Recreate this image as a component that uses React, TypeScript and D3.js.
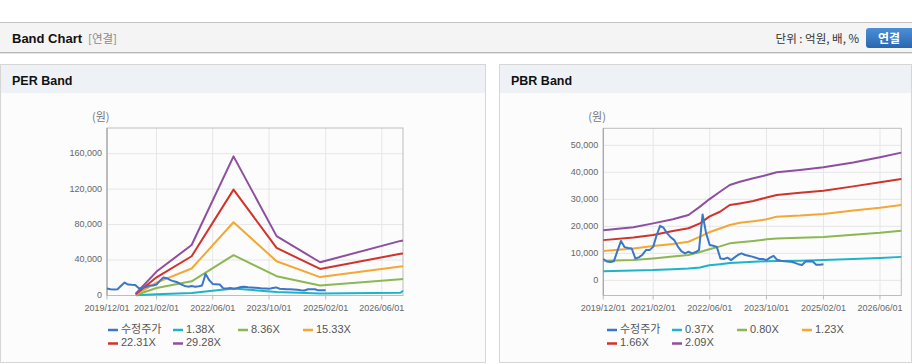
import { useEffect, useRef } from "react";
import * as d3 from "d3";

const W = 912;
const H = 364;
const FONT = "'Liberation Sans', Arial, 'Noto Sans CJK KR', sans-serif";
const KFONT = "'Noto Sans CJK KR', 'Liberation Sans', sans-serif";

// x axis ticks (shared)
const xTickLabels = ["2019/12/01", "2021/02/01", "2022/06/01", "2023/10/01", "2025/02/01", "2026/06/01"];
const xStart = "2019/12/01";
const xEnd = "2026/12/01";

// 수정주가 (monthly, from 2019/12)
const priceStart = "2019/12/01";
const priceValues = [
    7900, 7000, 6800, 7100, 11000, 14600, 12300, 12000, 11800, 8100, 8500, 9500,
    11200, 11200, 12400, 16500, 20200, 19500, 17400, 16000, 14900, 12500, 10800, 10000,
    10600, 10000, 10500, 11200, 24400, 17500, 13100, 12800, 12400, 8100, 7900, 8400,
    7500, 8500, 9500, 10000, 9400, 9100, 8800, 8400, 7900, 7900, 7500, 8400,
    9100, 7600, 7300, 7100, 7000, 6900, 6500, 6000, 5700, 7000, 7100, 7000,
    5800, 5800, 6000,
];

// PER band
const perDates = ["2020/08/05", "2021/02/01", "2021/12/01", "2022/11/28", "2023/12/05", "2024/12/15", "2026/11/10", "2026/12/01"];
const per138 = [300, 1300, 2700, 7800, 4000, 2200, 3100, 5400];
const per836 = [600, 8500, 16000, 45500, 21800, 11300, 18300, 18500];
const per1533 = [1000, 14500, 30500, 82600, 38700, 20800, 32600, 33000];
const per2231 = [1500, 20500, 44300, 119500, 53700, 30000, 47100, 47500];
const per2928 = [2000, 27000, 57000, 157000, 67000, 37500, 61600, 62000];
const perLabels = ["1.38X", "8.36X", "15.33X", "22.31X", "29.28X"];
const perTicks = [0, 40000, 80000, 120000, 160000];

// PBR band
const pbrDates = [
    "2019/12/01", "2020/08/15", "2021/02/01", "2021/07/20", "2021/12/01", "2022/03/10",
    "2022/05/28", "2022/08/28", "2022/11/20", "2023/02/15", "2023/06/10", "2023/10/03",
    "2023/12/28", "2024/07/15", "2025/02/01", "2025/10/15", "2026/06/01", "2026/12/01",
];
const pbr037 = [3400, 3700, 3800, 4100, 4400, 4800, 5600, 6000, 6400, 6600, 6900, 7100, 7200, 7300, 7500, 7900, 8300, 8700];
const pbr080 = [7300, 7500, 8100, 8800, 9400, 10500, 11500, 12600, 13700, 14100, 14600, 15200, 15500, 15800, 16100, 16900, 17600, 18400];
const pbr123 = [10900, 11800, 12700, 13500, 14300, 16200, 17800, 19200, 20500, 21300, 21900, 22600, 23600, 24000, 24600, 25900, 26900, 27900];
const pbr166 = [14900, 15900, 16800, 18300, 19300, 21100, 23600, 25400, 27900, 28500, 29400, 30700, 31600, 32400, 33200, 34800, 36300, 37500];
const pbr209 = [18600, 19700, 21100, 22600, 24200, 27300, 30000, 32800, 35300, 36500, 37800, 39000, 40000, 40900, 41900, 43600, 45600, 47300];
const pbrLabels = ["0.37X", "0.80X", "1.23X", "1.66X", "2.09X"];
const pbrTicks = [0, 10000, 20000, 30000, 40000, 50000];

const priceLabel = "수정주가";
const priceColor = "#3a77c6";
const bandColors = ["#1db3c8", "#8cb753", "#f4a733", "#d1322b", "#8e4f9f"];

const parse = d3.timeParse("%Y/%m/%d");

interface PanelCfg {
    left: number;
    right: number;
    top: number;
    bottom: number;
    yDomain: [number, number];
    yTicks: number[];
    bandDates: string[];
    bands: number[][];
    labels: string[];
    legendX: number;
}

const drawPanel = (svg: any, cfg: PanelCfg) => {
    const x = d3.scaleTime()
        .domain([parse(xStart)!, parse(xEnd)!])
        .range([cfg.left, cfg.right]);
    const y = d3.scaleLinear().domain(cfg.yDomain).range([cfg.bottom, cfg.top]);

    const g = svg.append("g");

    // grid
    cfg.yTicks.forEach((t) => {
        g.append("line")
            .attr("x1", cfg.left).attr("x2", cfg.right)
            .attr("y1", y(t)).attr("y2", y(t))
            .attr("stroke", "#e6e6e6");
        g.append("text")
            .attr("x", cfg.left - 5)
            .attr("y", y(t))
            .attr("text-anchor", "end")
            .attr("dominant-baseline", "middle")
            .attr("fill", "#666")
            .attr("font-size", "9px")
            .attr("font-family", FONT)
            .text(d3.format(",")(t));
    });
    xTickLabels.forEach((s) => {
        const px = x(parse(s)!);
        g.append("line")
            .attr("x1", px).attr("x2", px)
            .attr("y1", cfg.top).attr("y2", cfg.bottom)
            .attr("stroke", "#e6e6e6");
        g.append("line")
            .attr("x1", px).attr("x2", px)
            .attr("y1", cfg.bottom).attr("y2", cfg.bottom + 4)
            .attr("stroke", "#bbb");
        g.append("text")
            .attr("x", px)
            .attr("y", cfg.bottom + 15)
            .attr("text-anchor", "middle")
            .attr("fill", "#666")
            .attr("font-size", "9px")
            .attr("font-family", FONT)
            .text(s);
    });

    // frame
    g.append("rect")
        .attr("x", cfg.left).attr("y", cfg.top)
        .attr("width", cfg.right - cfg.left).attr("height", cfg.bottom - cfg.top)
        .attr("fill", "none").attr("stroke", "#bdbdbd");
    g.append("line")
        .attr("x1", cfg.left).attr("x2", cfg.left)
        .attr("y1", cfg.top).attr("y2", cfg.bottom)
        .attr("stroke", "#a0a0a0");

    // unit
    g.append("text")
        .attr("x", cfg.left - 15)
        .attr("y", 121)
        .attr("fill", "#777")
        .attr("font-size", "11px")
        .attr("font-family", KFONT)
        .text("(원)");

    const line = d3.line<[Date, number]>()
        .x((d) => x(d[0]))
        .y((d) => y(d[1]));

    // price
    const price: [Date, number][] = priceValues.map((v, i) => [d3.timeMonth.offset(parse(priceStart)!, i), v]);

    cfg.bands.forEach((vals, bi) => {
        const pts: [Date, number][] = vals.map((v, i) => [parse(cfg.bandDates[i])!, v]);
        g.append("path")
            .attr("d", line(pts))
            .attr("fill", "none")
            .attr("stroke", bandColors[bi])
            .attr("stroke-width", 2)
            .attr("stroke-linejoin", "round");
    });
    g.append("path")
        .attr("d", line(price))
        .attr("fill", "none")
        .attr("stroke", priceColor)
        .attr("stroke-width", 2)
        .attr("stroke-linejoin", "round");

    // legend
    const items = [{ label: priceLabel, color: priceColor }].concat(
        cfg.labels.map((l, i) => ({ label: l, color: bandColors[i] }))
    );
    items.forEach((it, i) => {
        const lx = cfg.legendX + (i % 4) * 65;
        const ly = 330 + Math.floor(i / 4) * 13.5;
        g.append("line")
            .attr("x1", lx).attr("x2", lx + 10)
            .attr("y1", ly).attr("y2", ly)
            .attr("stroke", it.color)
            .attr("stroke-width", 2.5);
        g.append("text")
            .attr("x", lx + 13)
            .attr("y", ly)
            .attr("dominant-baseline", "middle")
            .attr("fill", "#555")
            .attr("font-size", "11px")
            .attr("font-family", FONT)
            .text(it.label);
    });
};

const App = () => {
    const svgRef = useRef<SVGSVGElement>(null);

    useEffect(() => {
        if (!svgRef.current) return;
        const svg = d3.select(svgRef.current);
        svg.selectAll("*").remove();

        // header bar
        const defs = svg.append("defs");
        const grad = defs.append("linearGradient").attr("id", "btn").attr("x1", 0).attr("x2", 0).attr("y1", 0).attr("y2", 1);
        grad.append("stop").attr("offset", "0%").attr("stop-color", "#4b8fd6");
        grad.append("stop").attr("offset", "100%").attr("stop-color", "#2a66b0");

        svg.append("rect").attr("x", 0).attr("y", 22).attr("width", W).attr("height", 30).attr("fill", "#f4f4f4");
        svg.append("line").attr("x1", 0).attr("x2", W).attr("y1", 22.5).attr("y2", 22.5).attr("stroke", "#c4c4c4");
        svg.append("line").attr("x1", 0).attr("x2", W).attr("y1", 52.5).attr("y2", 52.5).attr("stroke", "#b8b8b8");
        svg.append("line").attr("x1", 0).attr("x2", W).attr("y1", 53.5).attr("y2", 53.5).attr("stroke", "#e4e4e4");

        svg.append("text")
            .attr("x", 12).attr("y", 42.5)
            .attr("font-size", "13px").attr("font-weight", "700")
            .attr("font-family", FONT).attr("fill", "#111")
            .text("Band Chart");
        svg.append("text")
            .attr("x", 88).attr("y", 42.5)
            .attr("font-size", "11.5px")
            .attr("font-family", KFONT).attr("fill", "#8a8a8a")
            .text("[연결]");
        svg.append("text")
            .attr("x", 859).attr("y", 42.5)
            .attr("text-anchor", "end")
            .attr("font-size", "11.5px")
            .attr("font-family", KFONT).attr("fill", "#333")
            .text("단위 : 억원, 배, %");
        svg.append("rect")
            .attr("x", 866).attr("y", 28).attr("width", 52).attr("height", 20).attr("rx", 3)
            .attr("fill", "url(#btn)");
        svg.append("text")
            .attr("x", 889).attr("y", 42.5)
            .attr("text-anchor", "middle")
            .attr("font-size", "12px").attr("font-weight", "700")
            .attr("font-family", KFONT).attr("fill", "#fff")
            .text("연결");

        // panels
        const panels = [
            { x: 0, w: 486, title: "PER Band" },
            { x: 499, w: 413, title: "PBR Band" },
        ];
        panels.forEach((p) => {
            svg.append("rect").attr("x", p.x + 0.5).attr("y", 64.5).attr("width", p.w - 1).attr("height", 298)
                .attr("fill", "#fcfcfc").attr("stroke", "#d6d6d6");
            svg.append("rect").attr("x", p.x + 1).attr("y", 65).attr("width", p.w - 2).attr("height", 28)
                .attr("fill", "#eef2f7");
            svg.append("text")
                .attr("x", p.x + 12).attr("y", 84.5)
                .attr("font-size", "12.5px").attr("font-weight", "700")
                .attr("font-family", FONT).attr("fill", "#111")
                .text(p.title);
        });

        drawPanel(svg, {
            left: 107, right: 403, top: 128, bottom: 295.5,
            yDomain: [0, 189000],
            yTicks: perTicks,
            bandDates: perDates,
            bands: [per138, per836, per1533, per2231, per2928],
            labels: perLabels,
            legendX: 108,
        });
        drawPanel(svg, {
            left: 603.3, right: 901.3, top: 128.3, bottom: 295.5,
            yDomain: [-5600, 56300],
            yTicks: pbrTicks,
            bandDates: pbrDates,
            bands: [pbr037, pbr080, pbr123, pbr166, pbr209],
            labels: pbrLabels,
            legendX: 607,
        });
    }, []);

    return (
        <div style={{ position: "absolute", left: 0, top: 0, width: W, height: H, background: "#fff" }}>
            <svg ref={svgRef} width={W} height={H} style={{ display: "block" }} />
        </div>
    );
};

export default App;
